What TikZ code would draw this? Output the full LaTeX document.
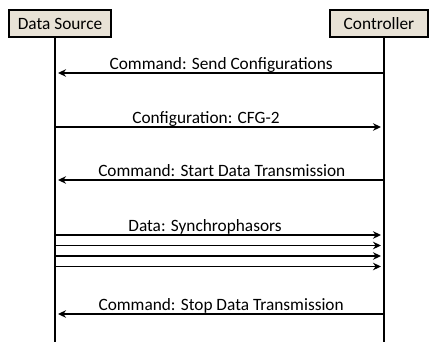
\documentclass[tikz,border=0pt]{standalone}
\usepackage{fontspec}
\setmainfont{Carlito}
\usetikzlibrary{arrows.meta}
\definecolor{boxfill}{RGB}{232,226,214}

\begin{document}
\begin{tikzpicture}[x=1pt,y=-1pt,font=\fontsize{17.3}{19}\selectfont,
    actor/.style={draw,fill=boxfill,line width=1.5pt,minimum height=27pt,inner sep=0pt},
    life/.style={line width=1.6pt},
    msg/.style={line width=1.6pt,shorten >=3pt,-{Stealth[length=8pt,width=7.5pt]}},
    lbl/.style={anchor=base,inner sep=0pt,yshift=3.5pt}]
  \useasboundingbox (0,0) rectangle (430,342);
  % actors
  \node[actor,minimum width=102pt] (src) at (60,23.5) {Data Source};
  \node[actor,minimum width=98pt] (ctl) at (379,23.5) {Controller};
  \coordinate (srcEnd) at (55,342);
  \coordinate (ctlEnd) at (384,342);
  \draw[life] (src.south -| srcEnd) -- (srcEnd);
  \draw[life] (ctl.south -| ctlEnd) -- (ctlEnd);
  % messages
  \coordinate (s1) at (55,73);  \coordinate (c1) at (384,73);
  \coordinate (s2) at (55,127); \coordinate (c2) at (384,127);
  \coordinate (s3) at (55,180); \coordinate (c3) at (384,180);
  \coordinate (s5) at (55,314); \coordinate (c5) at (384,314);
  \draw[msg] (c1) -- (s1) node[lbl,pos=0.495] {Command: Send Configurations};
  \draw[msg] (s2) -- (c2) node[lbl,pos=0.459] {Configuration: CFG-2};
  \draw[msg] (c3) -- (s3) node[lbl,pos=0.493] {Command: Start Data Transmission};
  \foreach \y [count=\i] in {235,245.5,256,266.5} {
    \coordinate (sd\i) at (55,\y);
    \coordinate (cd\i) at (384,\y);
    \draw[msg] (sd\i) -- (cd\i);
  }
  \path (sd1) -- (cd1) node[lbl,pos=0.456] (data) {Data: Synchrophasors};
  \draw[msg] (c5) -- (s5) node[lbl,pos=0.495] {Command: Stop Data Transmission};
\end{tikzpicture}
\end{document}
